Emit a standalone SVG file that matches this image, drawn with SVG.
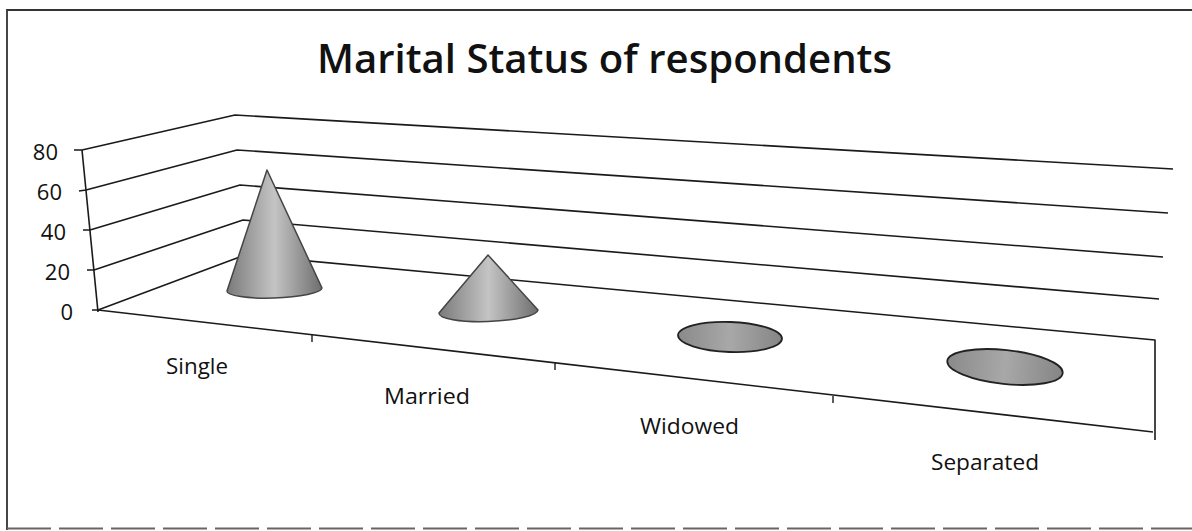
<svg xmlns="http://www.w3.org/2000/svg" width="1192" height="531" viewBox="0 0 1192 531">
  <style>
    .grid { fill: none; stroke: #1a1a1a; stroke-width: 1.6; stroke-linejoin: round; }
    .tick { stroke: #1a1a1a; stroke-width: 1.4; }
    .ylab { font-family: "Open Sans", "Liberation Sans", sans-serif; font-size: 22px; fill: #111; text-anchor: end; }
    .xlab { font-family: "Open Sans", "Liberation Sans", sans-serif; font-size: 22.5px; fill: #111; }
    .title { font-family: "Open Sans", "Liberation Sans", sans-serif; font-size: 39px; font-weight: 600; fill: #111; }
    .cone { fill: url(#coneGrad); stroke: #444; stroke-width: 1.5; stroke-linejoin: round; }
    .disc { fill: url(#discGrad); stroke: #222; stroke-width: 1.8; }
  </style>
  <defs>
    <linearGradient id="coneGrad" x1="0" y1="0" x2="1" y2="0">
      <stop offset="0" stop-color="#7a7a7a"/>
      <stop offset="0.5" stop-color="#c4c4c4"/>
      <stop offset="1" stop-color="#6e6e6e"/>
    </linearGradient>
    <linearGradient id="discGrad" x1="0" y1="0" x2="1" y2="0">
      <stop offset="0" stop-color="#8a8a8a"/>
      <stop offset="0.5" stop-color="#a8a8a8"/>
      <stop offset="1" stop-color="#858585"/>
    </linearGradient>
  </defs>

  <rect x="0" y="0" width="1192" height="531" fill="#ffffff"/>

  <g id="frame">
    <path d="M7,530 L7,10 L1192,10" fill="none" stroke="#333" stroke-width="1.8"/>
    <line x1="7" y1="528.5" x2="1192" y2="528.5" stroke="#666" stroke-width="2" stroke-dasharray="44 8"/>
  </g>

  <text class="title" x="317" y="73" textLength="575" lengthAdjust="spacingAndGlyphs">Marital Status of respondents</text>

  <g id="connectors">
    <polyline class="grid" points="74,150 82,150 235,115 1173,169"/>
    <polyline class="grid" points="79,191 86,190 237,150 1168,213"/>
    <polyline class="grid" points="83,230 90,230 240,185 1163,257"/>
    <polyline class="grid" points="87,270 94,270 243,220 1159,299"/>
    <polyline class="grid" points="92,310 98,310 245,255 1155,340 1155,440"/>
    <line class="grid" x1="82" y1="150" x2="98" y2="312"/>
    <line class="grid" x1="98" y1="310" x2="1153" y2="432"/>
    <line class="tick" x1="312" y1="335" x2="312" y2="342"/>
    <line class="tick" x1="555" y1="363" x2="555" y2="370"/>
    <line class="tick" x1="833" y1="396" x2="833" y2="403"/>
  </g>

  <g id="y-axis-labels">
    <text class="ylab" x="58" y="160">80</text>
    <text class="ylab" x="62" y="200">60</text>
    <text class="ylab" x="66" y="240">40</text>
    <text class="ylab" x="70" y="280">20</text>
    <text class="ylab" x="73" y="320">0</text>
  </g>

  <g id="node-single">
    <path class="cone" d="M267,170 L227,291 A47.5,8.5 -2 0 0 322,288 Z"/>
    <text class="xlab" x="166" y="374" textLength="62" lengthAdjust="spacingAndGlyphs">Single</text>
  </g>

  <g id="node-married">
    <path class="cone" d="M488,255 L439,313 A49.5,10 -2 0 0 538,310 Z"/>
    <text class="xlab" x="384" y="404" textLength="86" lengthAdjust="spacingAndGlyphs">Married</text>
  </g>

  <g id="node-widowed">
    <ellipse class="disc" cx="730" cy="337" rx="52" ry="15" transform="rotate(2 730 337)"/>
    <text class="xlab" x="640" y="434" textLength="99" lengthAdjust="spacingAndGlyphs">Widowed</text>
  </g>

  <g id="node-separated">
    <ellipse class="disc" cx="1005" cy="367" rx="58" ry="17" transform="rotate(6 1005 367)"/>
    <text class="xlab" x="931" y="470" textLength="108" lengthAdjust="spacingAndGlyphs">Separated</text>
  </g>
</svg>
